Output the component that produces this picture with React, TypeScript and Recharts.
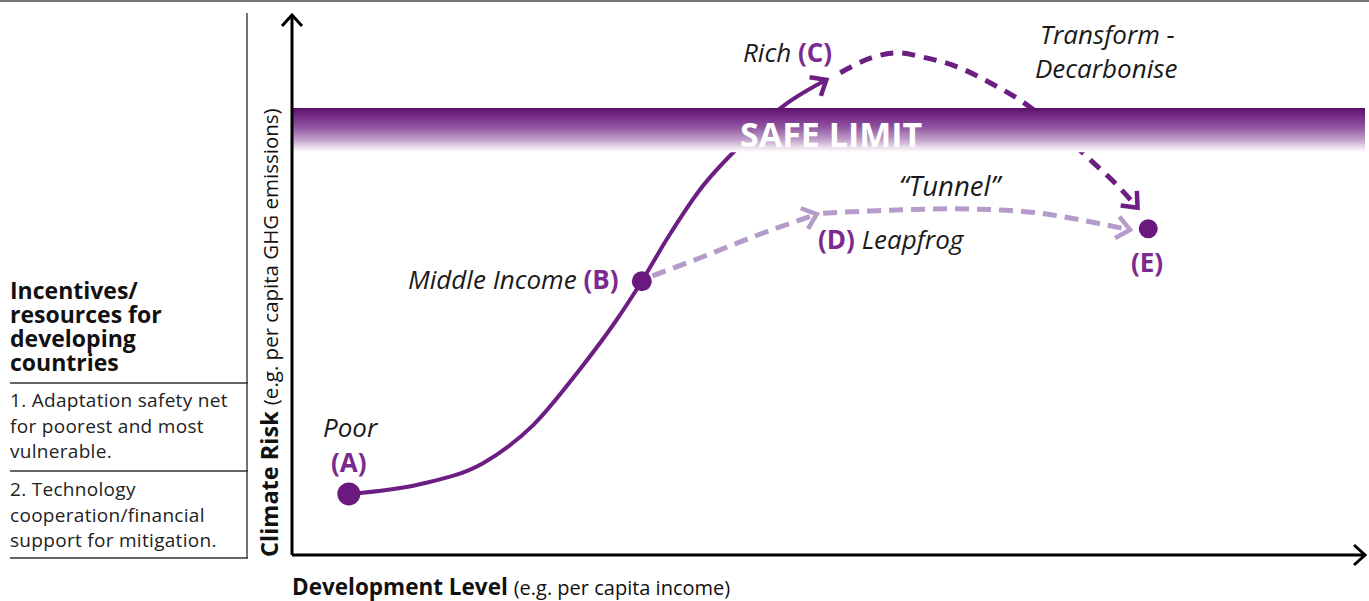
import React from "react";
import { ComposedChart, Line, Scatter, XAxis, YAxis, ReferenceArea } from "recharts";

// development level (x) vs climate risk (y), both on a 0-100 scale
const growthPath = [
  { x: 5.3, y: 11.3 },
  { x: 11.9, y: 13.1 },
  { x: 17.8, y: 17.0 },
  { x: 22.5, y: 24.1 },
  { x: 26.8, y: 34.3 },
  { x: 30.1, y: 43.1 },
  { x: 32.6, y: 50.7 },
  { x: 35.0, y: 58.7 },
  { x: 38.0, y: 67.6 },
  { x: 41.8, y: 75.9 },
  { x: 45.9, y: 83.3 },
  { x: 49.8, y: 88.0 },
];

const decarbonisePath = [
  { x: 51.1, y: 89.3 },
  { x: 53.9, y: 92.0 },
  { x: 56.4, y: 93.0 },
  { x: 58.8, y: 92.2 },
  { x: 62.0, y: 90.4 },
  { x: 65.1, y: 87.4 },
  { x: 68.1, y: 83.9 },
  { x: 71.6, y: 78.3 },
  { x: 74.6, y: 72.8 },
  { x: 76.7, y: 68.9 },
  { x: 78.8, y: 64.3 },
];

const leapfrogPath = [
  { x: 33.6, y: 51.7 },
  { x: 38.0, y: 55.0 },
  { x: 43.6, y: 59.4 },
  { x: 48.9, y: 63.1 },
];

const tunnelPath = [
  { x: 49.5, y: 63.3 },
  { x: 53.9, y: 63.7 },
  { x: 61.3, y: 64.1 },
  { x: 66.0, y: 63.9 },
  { x: 69.7, y: 63.3 },
  { x: 74.4, y: 61.7 },
  { x: 78.1, y: 60.2 },
];

const milestones = [
  { name: "A", x: 5.3, y: 11.3 },
  { name: "B", x: 32.6, y: 50.7 },
  { name: "E", x: 79.8, y: 60.4 },
];

const safeLimit = [74.6, 82.8];

const tableHeading = ["Incentives/", "resources for", "developing", "countries"];
const tableItems = [
  ["1. Adaptation safety net", "for poorest and most", "vulnerable."],
  ["2. Technology", "cooperation/financial", "support for mitigation."],
];

const W = 1369;
const H = 601;
const M = { top: 15, right: 4, bottom: 45, left: 291 };
const PW = W - M.left - 1 - M.right;
const PH = H - M.top - M.bottom - 1;

const DARK = "#6c1e82";
const LIGHT = "#b49bc9";
const LABEL = "#7b2a8f";
const FONT = "'Open Sans', sans-serif";
const dotSize: Record<string, number> = { A: 11.5, B: 10, E: 9.5 };

// open chevron drawn at the last point of a path, pointing along the final segment
function arrowEnd(data: { x: number; y: number }[], color: string) {
  return (props: any) => {
    const { cx, cy, index } = props;
    if (index !== data.length - 1 || cx == null) return <g key={"d" + index} />;
    const p = data[index - 1];
    const q = data[index];
    const ang = Math.atan2(-(q.y - p.y) * PH / 100, (q.x - p.x) * PW / 100);
    const L = 17;
    const t = (40 * Math.PI) / 180;
    const a1 = ang + Math.PI - t;
    const a2 = ang + Math.PI + t;
    const d = `M${cx + L * Math.cos(a1)},${cy + L * Math.sin(a1)} L${cx},${cy} L${cx + L * Math.cos(a2)},${cy + L * Math.sin(a2)}`;
    return <path key={"d" + index} d={d} fill="none" stroke={color} strokeWidth={4.5} strokeDasharray="none" />;
  };
}

const safeLabel = (props: any) => {
  const vb = props.viewBox || { x: 0, y: 0 };
  return (
    <text x={vb.x + 448} y={vb.y + 39} fontFamily={FONT} fontSize={34} fontWeight={700} fill="#fff">
      SAFE LIMIT
    </text>
  );
};

export default function App() {
  const it = { fontStyle: "italic", fill: "#1a1a1a" } as const;
  const tag = { fontWeight: 700, fill: LABEL } as const;
  return (
    <div style={{ position: "absolute", left: 0, top: 0, width: W, height: H, background: "#fff" }}>
      <ComposedChart width={W} height={H} margin={M}>
        <defs>
          <linearGradient id="safeBand" x1="0" y1="0" x2="0" y2="1">
            <stop offset="0" stopColor="#5a1166" />
            <stop offset="0.12" stopColor="#6d2180" />
            <stop offset="0.42" stopColor="#8f529f" />
            <stop offset="0.72" stopColor="#c1a0ca" />
            <stop offset="0.9" stopColor="#ece1ee" />
            <stop offset="1" stopColor="#ffffff" />
          </linearGradient>
          <marker id="axisArrow" viewBox="0 0 24 24" refX="22" refY="12" markerWidth="24" markerHeight="24" markerUnits="userSpaceOnUse" orient="auto-start-reverse">
            <path d="M11,2 L22,12 L11,22" fill="none" stroke="#000" strokeWidth="3" />
          </marker>
        </defs>

        <XAxis
          type="number"
          dataKey="x"
          domain={[0, 100]}
          allowDataOverflow
          height={1}
          tick={false}
          tickLine={false}
          axisLine={{ stroke: "#000", strokeWidth: 3, markerEnd: "url(#axisArrow)" }}
        />
        <YAxis
          type="number"
          dataKey="y"
          domain={[0, 100]}
          allowDataOverflow
          width={1}
          tick={false}
          tickLine={false}
          axisLine={{ stroke: "#000", strokeWidth: 3, markerStart: "url(#axisArrow)" }}
        />

        <Line data={growthPath} dataKey="y" type="monotone" stroke={DARK} strokeWidth={4} dot={arrowEnd(growthPath, DARK)} isAnimationActive={false} />
        <Line data={decarbonisePath} dataKey="y" type="monotone" stroke={DARK} strokeWidth={5} strokeDasharray="13 9" dot={arrowEnd(decarbonisePath, DARK)} isAnimationActive={false} />
        <Line data={leapfrogPath} dataKey="y" type="monotone" stroke={LIGHT} strokeWidth={5} strokeDasharray="14 8" dot={arrowEnd(leapfrogPath, LIGHT)} isAnimationActive={false} />
        <Line data={tunnelPath} dataKey="y" type="monotone" stroke={LIGHT} strokeWidth={5} strokeDasharray="14 8" dot={arrowEnd(tunnelPath, LIGHT)} isAnimationActive={false} />

        <ReferenceArea
          y1={safeLimit[0]}
          y2={safeLimit[1]}
          fill="url(#safeBand)"
          fillOpacity={1}
          stroke="none"
          ifOverflow="visible"
          zIndex={450}
          label={safeLabel}
        />

        <Scatter
          data={milestones}
          dataKey="y"
          fill="#6a1a7e"
          isAnimationActive={false}
          shape={(p: any) => <circle cx={p.cx} cy={p.cy} r={dotSize[p.payload.name]} fill="#6a1a7e" />}
        />

        <g fontFamily={FONT}>
          <text x={323} y={437} fontSize={26} {...it}>Poor</text>
          <text x={331} y={472} fontSize={26} {...tag}>(A)</text>
          <text x={408} y={289} fontSize={26}>
            <tspan {...it}>Middle Income </tspan>
            <tspan {...tag}>(B)</tspan>
          </text>
          <text x={743} y={62} fontSize={26}>
            <tspan {...it}>Rich </tspan>
            <tspan {...tag}>(C)</tspan>
          </text>
          <text x={1040} y={44} fontSize={26} {...it}>Transform -</text>
          <text x={1035} y={78} fontSize={26} {...it}>Decarbonise</text>
          <text x={899} y={196} fontSize={27.5} {...it}>“Tunnel”</text>
          <text x={818} y={249} fontSize={26}>
            <tspan {...tag}>(D) </tspan>
            <tspan {...it}>Leapfrog</tspan>
          </text>
          <text x={1131} y={272} fontSize={26} {...tag}>(E)</text>

          <text transform="rotate(-90)" x={-557} y={278} fill="#111">
            <tspan fontSize={23.5} fontWeight={700}>Climate Risk </tspan>
            <tspan fontSize={20.5}>(e.g. per capita GHG emissions)</tspan>
          </text>
          <text x={292} y={595} fill="#111">
            <tspan fontSize={22.5} fontWeight={700}>Development Level </tspan>
            <tspan fontSize={20}>(e.g. per capita income)</tspan>
          </text>

          {tableHeading.map((s, i) => (
            <text key={s} x={10} y={299 + i * 24} fontSize={23} fontWeight={700} fill="#111">{s}</text>
          ))}
          {tableItems.map((lines, k) =>
            lines.map((s, i) => (
              <text key={s} x={10} y={407 + k * 89 + i * 25.5} fontSize={19} letterSpacing={0.3} fill="#222">{s}</text>
            ))
          )}
        </g>
        <line x1={0} y1={1} x2={W} y2={1} stroke="#777" strokeWidth={2} />
        <line x1={247} y1={13} x2={247} y2={558} stroke="#444" strokeWidth={1.5} />
        {[383, 471, 558].map((y) => (
          <line key={y} x1={10} y1={y} x2={248} y2={y} stroke="#333" strokeWidth={1.5} />
        ))}
      </ComposedChart>
    </div>
  );
}
